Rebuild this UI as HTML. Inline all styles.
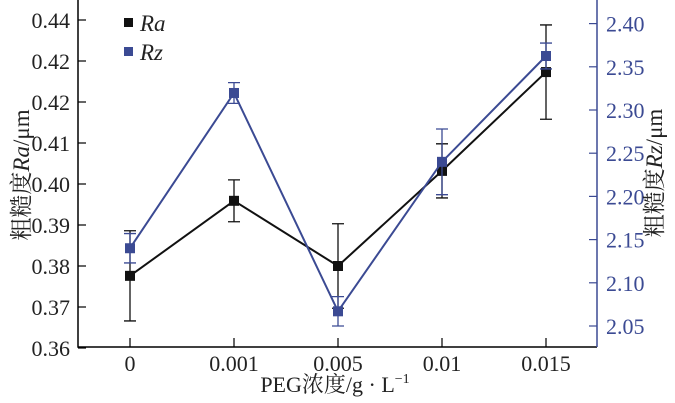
<!DOCTYPE html>
<html><head><meta charset="utf-8"><style>
body{margin:0;background:#fff;}
svg{display:block;font-family:"Liberation Serif","Noto Serif CJK SC",serif;}
</style></head><body>
<svg id="c" width="675" height="403"></svg>
<script>
const categories=["0","0.001","0.005","0.01","0.015"];
const raValues=[0.3776,0.3959,0.3800,0.4032,0.4273];
const raErrors=[0.011,0.0051,0.0103,0.0066,0.0115];
const rzValues=[2.140,2.3197,2.067,2.240,2.3625];
const rzErrors=[0.017,0.012,0.017,0.038,0.015];
const leftTickValues=[0.36,0.37,0.38,0.39,0.40,0.41,0.42,0.43,0.44];
const leftTickLabels=["0.36","0.37","0.38","0.39","0.40","0.41","0.42","0.42","0.44"];
const rightTickValues=[2.05,2.10,2.15,2.20,2.25,2.30,2.35,2.40];
const rightTickLabels=["2.05","2.10","2.15","2.20","2.25","2.30","2.35","2.40"];

const NS="http://www.w3.org/2000/svg";
const svg=document.getElementById('c');
const L=78,R=597,T=0,B=347,BLUE="#3b4a93";
const xPos=[130,233,336,440,546];
function x(i){return xPos[0]+(xPos[4]-xPos[0])*i/(categories.length-1);}
function yL(v){return 348-(v-0.36)/0.01*41;}
function yR(v){return 326-(v-2.05)/0.05*43.2;}
function el(tag,attrs,parent){const e=document.createElementNS(NS,tag);for(const k in attrs)e.setAttribute(k,attrs[k]);(parent||svg).appendChild(e);return e;}

let f=el('path',{d:`M${L},${T}V${B}H${R}`,stroke:'#000','stroke-width':1.5,fill:'none'});


let fr=el('line',{x1:R,y1:T,x2:R,y2:B,stroke:BLUE,'stroke-width':1.5});



leftTickValues.forEach((v,i)=>{
  const y=yL(v);
  el('line',{x1:L,y1:y,x2:L+8,y2:y,stroke:'#000','stroke-width':1.2});
  const t=el('text',{x:L-8,y:y+8,'text-anchor':'end','font-size':22,fill:'#222'});
  t.textContent=leftTickLabels[i];
  
  
});
rightTickValues.forEach((v,i)=>{
  const y=yR(v);
  el('line',{x1:R-8,y1:y,x2:R,y2:y,stroke:BLUE,'stroke-width':1.2});
  const t=el('text',{x:R+9,y:y+8,'font-size':22,fill:BLUE});
  t.textContent=rightTickLabels[i];
  
  
});
categories.forEach((c,i)=>{
  el('line',{x1:x(i),y1:B-9,x2:x(i),y2:B,stroke:'#000','stroke-width':1.2});
  const t=el('text',{x:x(i),y:B+24,'text-anchor':'middle','font-size':22,fill:'#222'});
  t.textContent=c;
  
  
});

function series(vals,errs,yf,color,name){
  const g=el('g',{});
  
  
  el('polyline',{points:vals.map((v,i)=>x(i)+','+yf(v)).join(' '),fill:'none',stroke:color,'stroke-width':2},g);
  vals.forEach((v,i)=>{
    const xi=x(i),y1=yf(v+errs[i]),y2=yf(v-errs[i]);
    el('path',{d:`M${xi},${y1}V${y2}M${xi-6},${y1}H${xi+6}M${xi-6},${y2}H${xi+6}`,stroke:color,'stroke-width':1.3,fill:'none'},g);
    const m=el('rect',{x:xi-5,y:yf(v)-5,width:10,height:10,fill:color},g);
    
    
  });
}
series(raValues,raErrors,yL,'#111','ra');
series(rzValues,rzErrors,yR,BLUE,'rz');
</script>
<svg width="675" height="403" style="position:absolute;left:0;top:0">
  <g>
    <rect x="124" y="18" width="9" height="9" fill="#111"/>
    <text x="140" y="31" font-size="23" font-style="italic" fill="#222">Ra</text>
    <rect x="124" y="47" width="9" height="9" fill="#3b4a93"/>
    <text x="140" y="60" font-size="23" font-style="italic" fill="#222">Rz</text>
  </g>
  <text transform="translate(29,175) rotate(-90)" text-anchor="middle" font-size="23" fill="#222">粗糙度<tspan font-style="italic">Ra</tspan>/μm</text>
  <text transform="translate(662,173) rotate(-90)" text-anchor="middle" font-size="23" fill="#222">粗糙度<tspan font-style="italic">Rz</tspan>/μm</text>
  <text x="335" y="392" text-anchor="middle" font-size="22" fill="#222">PEG浓度/g · L<tspan dy="-9" font-size="14">−1</tspan></text>
</svg>
</body></html>
